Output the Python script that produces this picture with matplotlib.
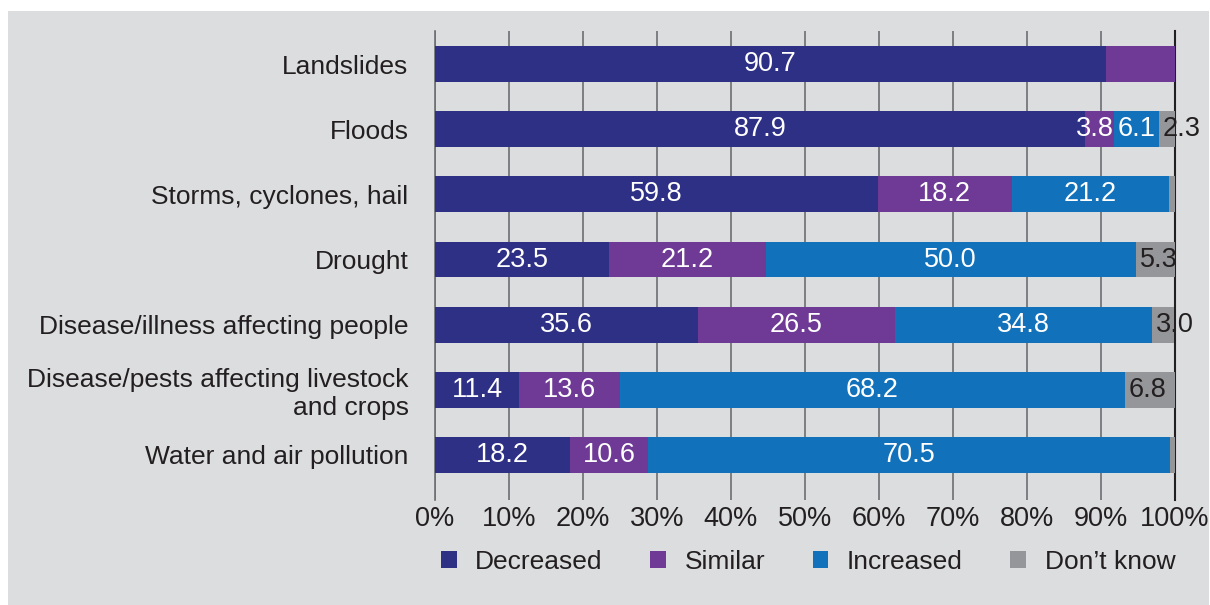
import matplotlib.pyplot as plt
from matplotlib.patches import Patch, Rectangle

plt.rcParams['font.family'] = ['Liberation Sans', 'DejaVu Sans']

# Hazard categories, top to bottom
categories = ['Landslides', 'Floods', 'Storms, cyclones, hail', 'Drought',
              'Disease/illness affecting people',
              'Disease/pests affecting livestock\nand crops',
              'Water and air pollution']

# Share of respondents (%) per answer
decreased = [90.7, 87.9, 59.8, 23.5, 35.6, 11.4, 18.2]
similar = [9.3, 3.8, 18.2, 21.2, 26.5, 13.6, 10.6]
increased = [0.0, 6.1, 21.2, 50.0, 34.8, 68.2, 70.5]
dont_know = [0.0, 2.3, 0.8, 5.3, 3.0, 6.8, 0.7]

series_names = ['Decreased', 'Similar', 'Increased', 'Don\u2019t know']
series = [decreased, similar, increased, dont_know]
colors = ['#2e3085', '#6f3996', '#1172bb', '#959699']
text_colors = ['white', 'white', 'white', '#231f20']
# segments left unlabelled (row, series)
no_label = {(0, 1)}
# narrow segments: label pushed to one edge instead of centred
edge_align = {(1, 1): 'right'}

xticks = list(range(0, 101, 10))
xtick_labels = [f'{t}%' for t in xticks]

fs = 19

fig = plt.figure(figsize=(12.1, 6.05), dpi=100, facecolor='white')
fig.patches.append(Rectangle((8 / 1210, 0), 1201 / 1210, 594 / 605,
                             transform=fig.transFigure, facecolor='#dcdddf',
                             edgecolor='none', zorder=-10))

ax = fig.add_axes([435 / 1210, 1 - 500 / 605, 740 / 1210, 469 / 605])
ax.set_facecolor('none')

y = list(range(len(categories)))
left = [0.0] * len(categories)
for j, (vals, col) in enumerate(zip(series, colors)):
    ax.barh(y, vals, left=left, height=0.55, color=col, zorder=3)
    for i, v in enumerate(vals):
        if v < 2 or (i, j) in no_label:
            continue
        if j == 3:
            # "don't know" labels start at the segment's left edge
            x, ha = left[i] + 0.5, 'left'
        elif edge_align.get((i, j)) == 'right':
            x, ha = left[i] + v, 'right'
        else:
            x, ha = left[i] + v / 2, 'center'
        ax.text(x, i, f'{v:.1f}', ha=ha, va='center',
                color=text_colors[j], fontsize=fs + 0.5, zorder=4)
    left = [l + v for l, v in zip(left, vals)]

ax.set_xlim(0, 100)
ax.set_ylim(6.692, -0.508)
ax.set_yticks(y)
ax.set_yticklabels(categories, fontsize=fs, color='#231f20')
ax.set_xticks(xticks)
ax.set_xticklabels(xtick_labels, fontsize=fs + 0.5, color='#231f20')
ax.tick_params(axis='y', length=0, pad=19)
ax.tick_params(axis='x', length=0, pad=4)

ax.set_axisbelow(True)
ax.xaxis.grid(True, color='#6d6e71', linewidth=1.2)
for side in ['top', 'bottom']:
    ax.spines[side].set_visible(False)
ax.spines['left'].set_color('#6d6e71')
ax.spines['left'].set_linewidth(1.2)
ax.spines['right'].set_color('#231f20')
ax.spines['right'].set_linewidth(1.5)

handles = [Patch(facecolor=c, edgecolor='none') for c in colors]
fig.legend(handles, series_names, loc='center', ncol=4,
           bbox_to_anchor=(808 / 1210, 1 - 562 / 605), frameon=False,
           fontsize=fs, handlelength=0.6, handleheight=0.6,
           handletextpad=0.7, columnspacing=1.8, labelcolor='#231f20')

fig.savefig('out.png', dpi=100, facecolor=fig.get_facecolor())
